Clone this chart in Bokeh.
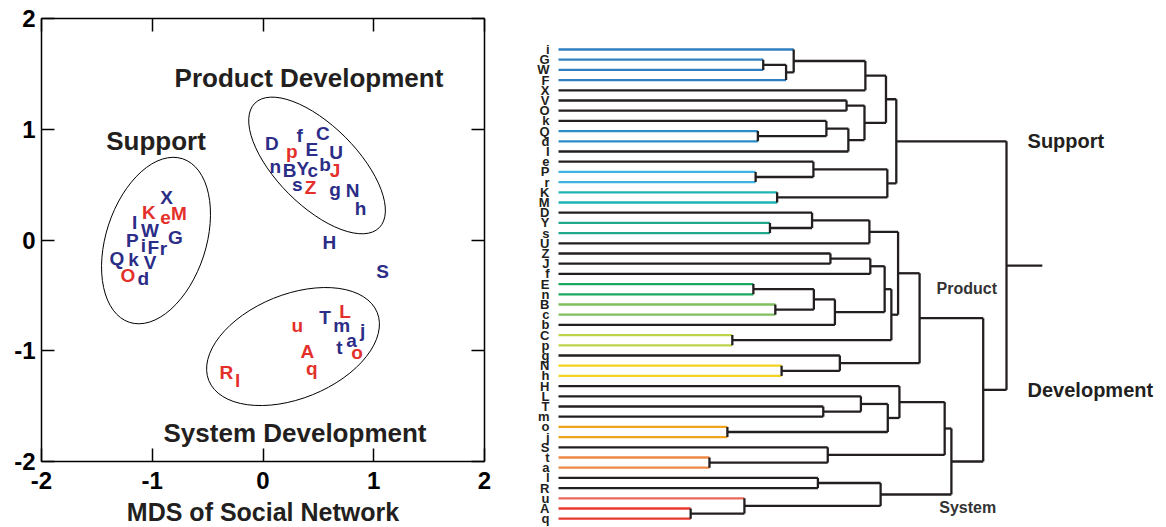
from bokeh.plotting import figure
from bokeh.models import Range1d, FixedTicker, LinearAxis, ColumnDataSource
from bokeh.layouts import row
from bokeh.embed import file_html
from bokeh.resources import INLINE
from bokeh.core.properties import value

FONT = "Liberation Sans"
BLUE = "#2b2d87"
RED = "#e4302a"
INK = "#231f20"

# ---------------- MDS of social network ----------------
mds_letters = ["X", "K", "e", "M", "I", "W", "G", "P", "i", "F", "r", "Q", "k", "V", "O", "d",
               "D", "f", "C", "p", "E", "U", "n", "B", "Y", "c", "b", "J", "s", "Z", "g", "N", "h",
               "H", "S",
               "L", "T", "m", "j", "u", "a", "t", "o", "A", "q", "R", "l"]
mds_x = [-0.87, -1.03, -0.88, -0.76, -1.16, -1.02, -0.79, -1.18, -1.08, -0.99, -0.90, -1.32, -1.17, -1.02, -1.22, -1.08,
         0.08, 0.33, 0.54, 0.26, 0.44, 0.66, 0.11, 0.24, 0.36, 0.45, 0.56, 0.65, 0.31, 0.43, 0.65, 0.81, 0.88,
         0.60, 1.08,
         0.74, 0.56, 0.71, 0.90, 0.31, 0.80, 0.69, 0.85, 0.40, 0.44, -0.33, -0.23]
mds_y = [0.38, 0.25, 0.20, 0.24, 0.16, 0.09, 0.02, 0.00, -0.05, -0.07, -0.08, -0.17, -0.18, -0.20, -0.32, -0.35,
         0.87, 0.94, 0.96, 0.80, 0.82, 0.79, 0.66, 0.63, 0.65, 0.63, 0.68, 0.63, 0.50, 0.47, 0.46, 0.45, 0.28,
         -0.02, -0.28,
         -0.65, -0.70, -0.77, -0.82, -0.77, -0.91, -0.97, -1.02, -1.01, -1.16, -1.20, -1.27]
mds_red = [0, 1, 1, 1, 0, 0, 0, 0, 0, 0, 0, 0, 0, 0, 1, 0,
           0, 0, 0, 1, 0, 0, 0, 0, 0, 0, 0, 1, 0, 1, 0, 0, 0,
           0, 0,
           1, 0, 0, 0, 1, 0, 0, 1, 1, 1, 1, 1]

cluster_names = ["Support", "Product Development", "System Development"]
cluster_label_x = [-0.966, 0.415, 0.289]
cluster_label_y = [0.898, 1.46, -1.747]

ell_x = [-0.966, 0.488, 0.271]
ell_y = [-0.005, 0.673, -0.962]
ell_w = [1.553, 1.589, 1.64]
ell_h = [0.903, 0.722, 0.94]
ell_angle = [72, -45, 22]

axis_ticks = [-2, -1, 0, 1, 2]
axis_lo, axis_hi = -2, 2
axis_title = "MDS of Social Network"

# canvas geometry of the left panel (pixels)
W1, H1 = 518, 526
FR_L, FR_T, FR_W, FR_H = 41, 18, 443, 443
ppx = FR_W / (axis_hi - axis_lo)
ppy = FR_H / (axis_hi - axis_lo)
xr = Range1d(axis_lo - FR_L / ppx, axis_hi + (W1 - FR_L - FR_W) / ppx)
yr = Range1d(axis_lo - (H1 - FR_T - FR_H) / ppy, axis_hi + FR_T / ppy)

p1 = figure(width=W1, height=H1, x_range=xr, y_range=yr,
            output_backend="svg", toolbar_location=None,
            x_axis_location=None, y_axis_location=None,
            min_border_left=0, min_border_right=0, min_border_top=0, min_border_bottom=0)
p1.grid.grid_line_color = None
p1.outline_line_color = None
p1.background_fill_color = "white"
p1.border_fill_color = "white"

shown = {t: str(t) for t in axis_ticks}
hidden = {t: "" for t in axis_ticks}
for side, loc in [("below", axis_lo), ("left", axis_lo), ("above", axis_hi), ("right", axis_hi)]:
    ax = LinearAxis(ticker=FixedTicker(ticks=axis_ticks), fixed_location=loc, bounds=(axis_lo, axis_hi))
    ax.major_tick_in = 13
    ax.major_tick_out = 0
    ax.minor_tick_line_color = None
    ax.major_tick_line_width = 1.5
    ax.axis_line_width = 1.5
    ax.major_label_text_font = FONT
    ax.major_label_text_font_style = "bold"
    ax.major_label_text_color = "black"
    ax.major_label_text_font_size = "24px"
    if side in ("below", "left"):
        ax.major_label_overrides = shown
        ax.major_label_standoff = 6
    else:
        ax.major_label_overrides = hidden
        ax.major_label_standoff = 0
    if side == "below":
        ax.major_label_standoff = 10
        ax.axis_label = axis_title
        ax.axis_label_text_font = FONT
        ax.axis_label_text_font_style = "bold"
        ax.axis_label_text_font_size = "25px"
        ax.axis_label_text_color = INK
        ax.axis_label_standoff = 6
    p1.add_layout(ax, side)

p1.ellipse(x=ell_x, y=ell_y, width=ell_w, height=ell_h, angle=ell_angle, angle_units="deg",
           fill_color=None, line_color="black", line_width=1)

src = ColumnDataSource(dict(x=mds_x, y=mds_y, t=mds_letters,
                            c=[RED if r else BLUE for r in mds_red]))
p1.text(x="x", y="y", text="t", text_color="c", source=src,
        text_align="center", text_baseline="middle",
        text_font=value(FONT), text_font_size="19px", text_font_style="bold")

p1.text(x=cluster_label_x, y=cluster_label_y, text=cluster_names,
        text_align="center", text_baseline="middle", text_color=INK,
        text_font=value(FONT), text_font_size="26px", text_font_style="bold")

# ---------------- Dendrogram ----------------
leaves = ["i", "G", "W", "F", "X", "V", "O", "k", "Q", "d", "I", "e", "P", "r", "K", "M",
          "D", "Y", "s", "U", "Z", "J", "f", "E", "n", "B", "c", "b", "C", "p", "g", "N", "h",
          "H", "L", "T", "m", "o", "j", "S", "t", "a", "l", "R", "u", "A", "q"]

leaf_colors = {
    "i": "#2f7fc1", "G": "#2f7fc1", "W": "#2f7fc1", "F": "#2f7fc1",
    "Q": "#2b8dc8", "d": "#2b8dc8",
    "P": "#3db5e0", "r": "#3db5e0",
    "K": "#1fb3b5", "M": "#1fb3b5",
    "Y": "#1fa88c", "s": "#1fa88c",
    "E": "#1aa85c", "n": "#1aa85c",
    "B": "#7fbf5e", "c": "#7fbf5e",
    "C": "#bfd34a", "p": "#bfd34a",
    "N": "#f2d322", "h": "#f2d322",
    "o": "#f0a41e", "j": "#f0a41e",
    "t": "#ee8944", "a": "#ee8944",
    "u": "#e9695b",
    "A": "#e8392f", "q": "#e8392f",
}

# (node, left child, right child, merge distance)
merges = [
    ("GW", "G", "W", 0.457), ("GWF", "GW", "F", 0.508), ("iGWF", "i", "GWF", 0.525),
    ("S1", "iGWF", "X", 0.685), ("VO", "V", "O", 0.643), ("Qd", "Q", "d", 0.445),
    ("kQd", "k", "Qd", 0.598), ("kQdI", "kQd", "I", 0.647), ("S2", "VO", "kQdI", 0.683),
    ("S12", "S1", "S2", 0.731), ("Pr", "P", "r", 0.440), ("ePr", "e", "Pr", 0.569),
    ("KM", "K", "M", 0.488), ("S3", "ePr", "KM", 0.734), ("SUP", "S12", "S3", 0.754),
    ("Ys", "Y", "s", 0.472), ("DYs", "D", "Ys", 0.566), ("DYsU", "DYs", "U", 0.694),
    ("ZJ", "Z", "J", 0.607), ("ZJf", "ZJ", "f", 0.696), ("En", "E", "n", 0.435),
    ("Bc", "B", "c", 0.484), ("EnBc", "En", "Bc", 0.570), ("EnBcb", "EnBc", "b", 0.617),
    ("P1", "ZJf", "EnBcb", 0.728), ("Cp", "C", "p", 0.388), ("P2", "P1", "Cp", 0.743),
    ("P3", "DYsU", "P2", 0.758), ("Nh", "N", "h", 0.498), ("gNh", "g", "Nh", 0.628),
    ("PROD", "P3", "gNh", 0.806),
    ("Tm", "T", "m", 0.591), ("LTm", "L", "Tm", 0.675), ("oj", "o", "j", 0.377),
    ("LTmoj", "LTm", "oj", 0.735), ("H1", "H", "LTmoj", 0.761), ("ta", "t", "a", 0.337),
    ("Sta", "S", "ta", 0.601), ("Y1", "H1", "Sta", 0.862), ("lR", "l", "R", 0.579),
    ("Aq", "A", "q", 0.295), ("uAq", "u", "Aq", 0.415), ("lRuAq", "lR", "uAq", 0.719),
    ("SYS", "Y1", "lRuAq", 0.877), ("DEV", "PROD", "SYS", 0.948), ("ROOT", "SUP", "DEV", 1.0),
]
root_stub = 1.08

group_titles = ["Support", "Development"]
group_nodes = ["SUP", "DEV"]
group_x = 1.047
sub_titles = ["Product", "System"]
sub_x = [0.844, 0.850]

pos = {name: float(k) for k, name in enumerate(leaves)}
hgt = {name: 0.0 for name in leaves}
x0, y0, x1, y1, col = [], [], [], [], []
for node, a, b, h in merges:
    for ch in (a, b):
        x0.append(hgt[ch]); x1.append(h); y0.append(pos[ch]); y1.append(pos[ch])
        col.append(leaf_colors.get(ch, INK) if ch in leaves else INK)
    x0.append(h); x1.append(h); y0.append(pos[a]); y1.append(pos[b]); col.append(INK)
    pos[node] = (pos[a] + pos[b]) / 2.0
    hgt[node] = h
x0.append(hgt["ROOT"]); x1.append(root_stub); y0.append(pos["ROOT"]); y1.append(pos["ROOT"]); col.append(INK)

sub_y = [pos["PROD"] - 2.9, pos["lRuAq"] + 1.3]

# canvas geometry of the right panel (pixels)
W2, H2 = 647, 526
LEAF_X0, PX_PER_DIST = 40, 448
ROW0, ROW_STEP = 49, 10.2
xr2 = Range1d(-LEAF_X0 / PX_PER_DIST, (W2 - LEAF_X0) / PX_PER_DIST)
yr2 = Range1d((H2 - ROW0) / ROW_STEP, -ROW0 / ROW_STEP)

p2 = figure(width=W2, height=H2, x_range=xr2, y_range=yr2,
            output_backend="svg", toolbar_location=None,
            x_axis_location=None, y_axis_location=None,
            min_border_left=0, min_border_right=0, min_border_top=0, min_border_bottom=0)
p2.grid.grid_line_color = None
p2.outline_line_color = None
p2.background_fill_color = "white"
p2.border_fill_color = "white"

seg = ColumnDataSource(dict(x0=x0, y0=y0, x1=x1, y1=y1, c=col))
p2.segment(x0="x0", y0="y0", x1="x1", y1="y1", line_color="c", line_width=2.3, source=seg)

p2.text(x=[0.0] * len(leaves), y=list(range(len(leaves))), text=leaves, x_offset=-9,
        text_align="right", text_baseline="middle", text_color=INK,
        text_font=value(FONT), text_font_size="13px", text_font_style="bold")

p2.text(x=[group_x] * 2, y=[pos[n] for n in group_nodes], text=group_titles,
        text_align="left", text_baseline="middle", text_color=INK,
        text_font=value(FONT), text_font_size="20px", text_font_style="bold")

p2.text(x=sub_x, y=sub_y, text=sub_titles,
        text_align="left", text_baseline="middle", text_color="#333333",
        text_font=value(FONT), text_font_size="16px", text_font_style="bold")

layout = row(p1, p2)
open("out.html", "w").write(file_html(layout, INLINE))
